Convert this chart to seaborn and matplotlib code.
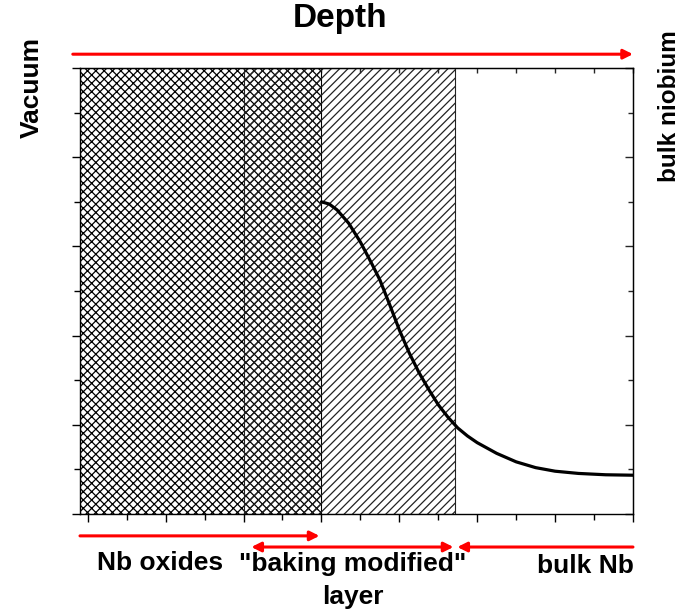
from __future__ import annotations

import matplotlib

matplotlib.use("Agg")
import matplotlib.pyplot as plt
import matplotlib.transforms as mtransforms
import seaborn as sns


# depth axis (arbitrary units, major tick every 2)
X_LIMITS = (-0.2, 14.0)
Y_LIMITS = (0.0, 10.0)
X_MAJOR = [0, 2, 4, 6, 8, 10, 12, 14]
X_MINOR = [1, 3, 5, 7, 9, 11, 13]
Y_MAJOR = [0, 2, 4, 6, 8, 10]
Y_MINOR = [1, 3, 5, 7, 9]

# layer boundaries
OXIDE_SPAN = (-0.2, 6.0)
MODIFIED_SPAN = (4.0, 9.44)
BULK_SPAN = (9.44, 14.0)

# profile drawn from the oxide interface into the bulk
DEPTH = [6.0, 6.2, 6.4, 6.7, 7.0, 7.3, 7.5, 7.75, 8.0, 8.25, 8.5, 8.75, 9.0,
         9.25, 9.5, 9.75, 10.0, 10.5, 11.0, 11.5, 12.0, 12.6, 13.3, 14.0]
PROFILE = [7.0, 6.95, 6.82, 6.52, 6.1, 5.6, 5.25, 4.7, 4.13, 3.62, 3.18, 2.8, 2.45,
           2.17, 1.93, 1.75, 1.60, 1.36, 1.17, 1.04, 0.96, 0.91, 0.88, 0.87]

LABELS = {
    "top": "Depth",
    "left": "Vacuum",
    "right": "bulk niobium",
    "oxides": "Nb oxides",
    "modified": '"baking modified"',
    "modified2": "layer",
    "bulk": "bulk Nb",
}


def arrow(ax, x0, x1, y, trans, style):
    ax.annotate(
        "",
        xy=(x1, y),
        xytext=(x0, y),
        xycoords=trans,
        textcoords=trans,
        annotation_clip=False,
        arrowprops=dict(arrowstyle=style, color="red", lw=2.2, mutation_scale=14,
                        shrinkA=0, shrinkB=0),
    )


def main() -> None:
    sns.set_style("ticks")
    plt.rcParams["font.family"] = ["Liberation Sans", "DejaVu Sans"]
    plt.rcParams["hatch.linewidth"] = 0.9

    fig = plt.figure(figsize=(6.86, 6.15), dpi=100)
    ax = fig.add_axes([0.1166, 0.1642, 0.8061, 0.7252])

    ax.axvspan(*OXIDE_SPAN, facecolor="white", edgecolor="black", hatch="xxxx", lw=0.8, zorder=1)
    ax.axvspan(*MODIFIED_SPAN, facecolor="none", edgecolor="#222222", hatch="////", lw=0.8, zorder=1.1)

    sns.lineplot(x=DEPTH, y=PROFILE, color="black", lw=2.3, ax=ax, zorder=3)

    ax.set_xlim(*X_LIMITS)
    ax.set_ylim(*Y_LIMITS)
    ax.set_xticks(X_MAJOR)
    ax.set_xticks(X_MINOR, minor=True)
    ax.set_yticks(Y_MAJOR)
    ax.set_yticks(Y_MINOR, minor=True)
    ax.tick_params(which="both", direction="out", width=1, labelbottom=False, labelleft=False,
                   color="black")
    ax.tick_params(which="major", length=6)
    ax.tick_params(which="minor", length=4)
    ax.set_xlabel("")
    ax.set_ylabel("")
    for side in ax.spines.values():
        side.set_visible(True)
        side.set_linewidth(1.0)
        side.set_color("black")
        side.set_zorder(5)

    top = ax.secondary_xaxis("top")
    top.set_xticks(X_MAJOR)
    top.set_xticks(X_MINOR, minor=True)
    top.tick_params(which="both", direction="in", length=3.5, width=1, labeltop=False)
    right = ax.secondary_yaxis("right")
    right.set_yticks(Y_MAJOR)
    right.set_yticks(Y_MINOR, minor=True)
    right.tick_params(which="major", direction="in", length=6, width=1, labelright=False)
    right.tick_params(which="minor", direction="in", length=3.5, width=1, labelright=False)

    # red arrows: x in data units, y in axes fraction
    blend = mtransforms.blended_transform_factory(ax.transData, ax.transAxes)
    arrow(ax, -0.013, 1.0, 1.031, ax.transAxes, "-|>")
    arrow(ax, OXIDE_SPAN[0], OXIDE_SPAN[1] - 0.05, -0.049, blend, "-|>")
    arrow(ax, MODIFIED_SPAN[0] + 0.2, MODIFIED_SPAN[1] - 0.05, -0.074, blend, "<|-|>")
    arrow(ax, BULK_SPAN[0] + 0.05, BULK_SPAN[1], -0.074, blend, "<|-")

    bold = dict(fontweight="bold", color="black")
    fig.text(0.496, 0.970, LABELS["top"], fontsize=24, ha="center", va="center", **bold)
    fig.text(0.046, 0.857, LABELS["left"], fontsize=19, rotation=90, ha="center", va="center", **bold)
    fig.text(0.976, 0.828, LABELS["right"], fontsize=17.5, rotation=90, ha="center", va="center", **bold)
    fig.text(0.233, 0.085, LABELS["oxides"], fontsize=19, ha="center", va="center", **bold)
    fig.text(0.514, 0.083, LABELS["modified"], fontsize=19, ha="center", va="center", **bold)
    fig.text(0.514, 0.029, LABELS["modified2"], fontsize=19, ha="center", va="center", **bold)
    fig.text(0.853, 0.080, LABELS["bulk"], fontsize=19, ha="center", va="center", **bold)

    fig.savefig("out.png", dpi=100)
    plt.close(fig)


if __name__ == "__main__":
    main()
